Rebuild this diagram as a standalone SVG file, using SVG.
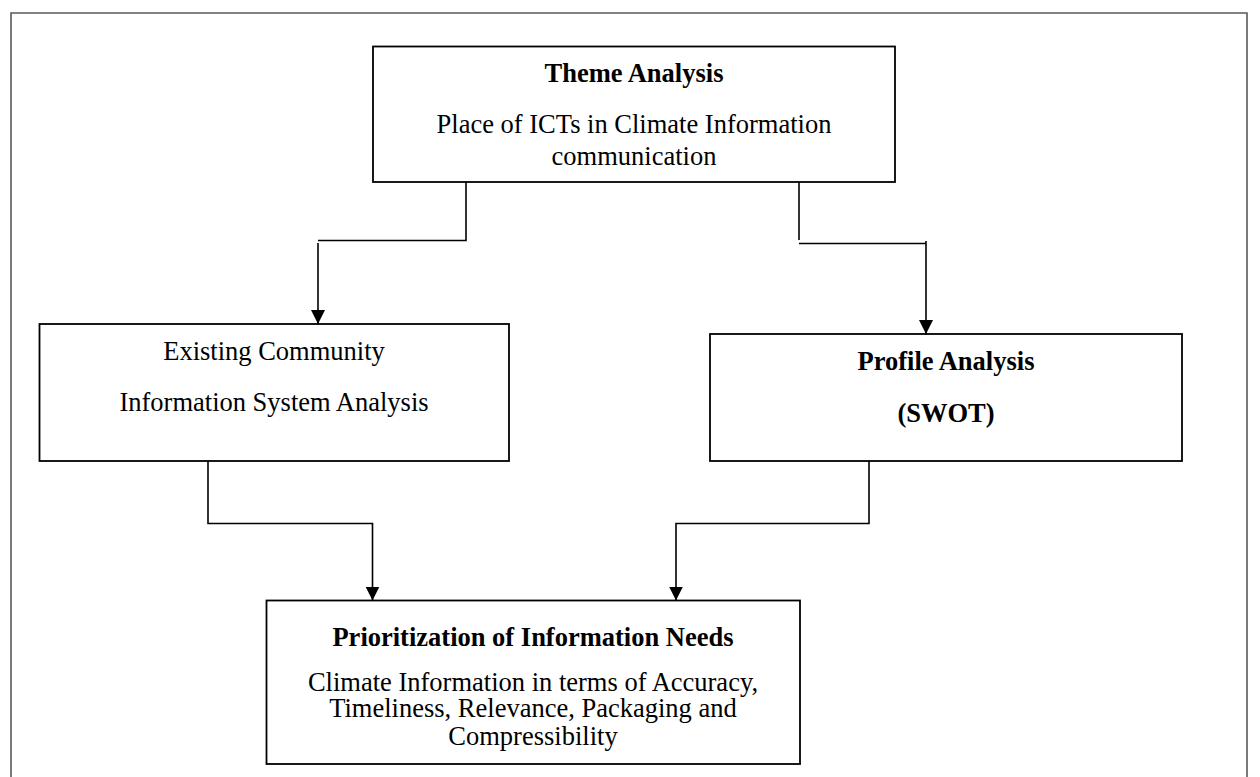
<svg xmlns="http://www.w3.org/2000/svg" width="1260" height="777" viewBox="0 0 1260 777">
  <defs>
    <style>
      .frame { fill: none; stroke: #5a5a5a; stroke-width: 1.6; }
      .box { fill: #ffffff; stroke: #000000; stroke-width: 1.8; }
      .link { fill: none; stroke: #000000; stroke-width: 1.6; }
      .t { font-family: "Liberation Serif", "Times New Roman", serif; font-size: 26.5px; fill: #000000; text-anchor: middle; }
      .b { font-weight: bold; }
    </style>
    <marker id="arrow" viewBox="0 0 14 14" refX="14" refY="7" markerWidth="14" markerHeight="14" markerUnits="userSpaceOnUse" orient="auto">
      <path d="M0,0 L14,7 L0,14 Z" fill="#000000"/>
    </marker>
  </defs>

  <rect width="1260" height="777" fill="#ffffff"/>

  <!-- page frame, open at the bottom -->
  <path class="frame" d="M11,777 V13 H1247 V777"/>

  <!-- connectors -->
  <g id="connectors">
    <path class="link" d="M466,182 V240.5 H318"/>
    <path class="link" d="M318,243 V324" marker-end="url(#arrow)"/>
    <path class="link" d="M799,182 V240"/>
    <path class="link" d="M799,243.5 H926"/>
    <path class="link" d="M926,241 V334" marker-end="url(#arrow)"/>
    <path class="link" d="M208,461 V523.5 H372.5 V600.5" marker-end="url(#arrow)"/>
    <path class="link" d="M869,461 V523.5 H676 V600.5" marker-end="url(#arrow)"/>
  </g>

  <g id="theme-analysis">
    <rect class="box" x="373" y="46.5" width="522" height="135.5"/>
    <text class="t b" x="634" y="82">Theme Analysis</text>
    <text class="t" x="634" y="133">Place of ICTs in Climate Information</text>
    <text class="t" x="634" y="164.5">communication</text>
  </g>

  <g id="community-system">
    <rect class="box" x="39.5" y="324" width="469.5" height="137"/>
    <text class="t" x="274" y="359.5">Existing Community</text>
    <text class="t" x="274" y="411">Information System Analysis</text>
  </g>

  <g id="profile-analysis">
    <rect class="box" x="710" y="334" width="472" height="127"/>
    <text class="t b" x="946" y="369.5">Profile Analysis</text>
    <text class="t b" x="946" y="421.5">(SWOT)</text>
  </g>

  <g id="prioritization">
    <rect class="box" x="266.5" y="600.5" width="533.5" height="163.5"/>
    <text class="t b" x="533" y="646">Prioritization of Information Needs</text>
    <text class="t" x="533" y="690.5">Climate Information in terms of Accuracy,</text>
    <text class="t" x="533" y="717">Timeliness, Relevance, Packaging and</text>
    <text class="t" x="533" y="744.5">Compressibility</text>
  </g>
</svg>
